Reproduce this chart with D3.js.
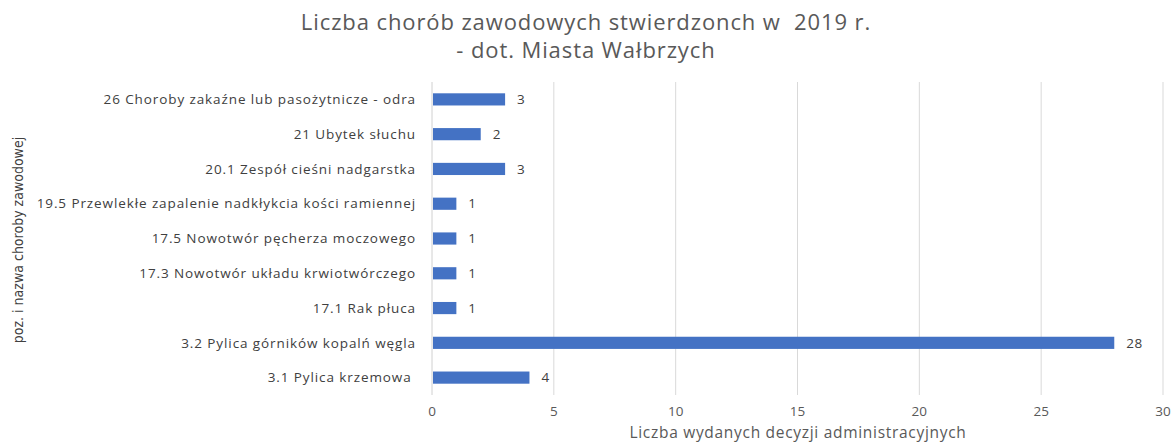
<!DOCTYPE html>
<html>
<head>
<meta charset="utf-8">
<script src="https://cdn.jsdelivr.net/npm/d3@7"></script>
<style>
	body { margin: 0; background: #fff; }
	text { white-space: pre; }
</style>
</head>
<body>
<div id="chart"></div>
<script>
// categories, top to bottom as shown
var categories = [
	"26 Choroby zakaźne lub pasożytnicze - odra",
	"21 Ubytek słuchu",
	"20.1 Zespół cieśni nadgarstka",
	"19.5 Przewlekłe zapalenie nadkłykcia kości ramiennej",
	"17.5 Nowotwór pęcherza moczowego",
	"17.3 Nowotwór układu krwiotwórczego",
	"17.1 Rak płuca",
	"3.2 Pylica górników kopalń węgla",
	"3.1 Pylica krzemowa "
];
var values = [3, 2, 3, 1, 1, 1, 1, 28, 4];
var xTicks = [0, 5, 10, 15, 20, 25, 30];
var titleLines = ["Liczba chorób zawodowych stwierdzonch w  2019 r.", "- dot. Miasta Wałbrzych"];
var xTitle = "Liczba wydanych decyzji administracyjnych";
var yTitle = "poz. i nazwa choroby zawodowej";

var W = 1174, H = 444;
var margin = {top: 82, right: 11, bottom: 49, left: 432};
var FONT = "'Open Sans', 'Noto Sans', sans-serif";

var svg = d3.select("#chart").append("svg")
	.attr("width", W)
	.attr("height", H);

var x = d3.scaleLinear().domain([0, 30]).range([margin.left, W - margin.right]);
var y = d3.scaleBand().domain(categories).range([margin.top, H - margin.bottom]).paddingInner(0.65).paddingOuter(0.325);

//GRIDLINES
svg.append("g").selectAll("line")
	.data(xTicks.slice(1))
	.enter().append("line")
	.attr("x1", function(d){ return x(d); })
	.attr("x2", function(d){ return x(d); })
	.attr("y1", margin.top)
	.attr("y2", H - margin.bottom)
	.attr("stroke", "#d9d9d9")
	.attr("stroke-width", 1);

//ZERO AXIS LINE
svg.append("line")
	.attr("x1", x(0)).attr("x2", x(0))
	.attr("y1", margin.top).attr("y2", H - margin.bottom)
	.attr("stroke", "#d0d0d0")
	.attr("stroke-width", 1);

//BARS
svg.append("g").selectAll("rect")
	.data(values)
	.enter().append("rect")
	.attr("x", x(0) + 1)
	.attr("y", function(d, i){ return y(categories[i]); })
	.attr("width", function(d){ return x(d) - x(0) - 1; })
	.attr("height", y.bandwidth())
	.attr("fill", "#4472c4");

//VALUE LABELS
svg.append("g").selectAll("text")
	.data(values)
	.enter().append("text")
	.attr("x", function(d){ return x(d) + 12; })
	.attr("y", function(d, i){ return y(categories[i]) + y.bandwidth() / 2; })
	.attr("dy", "0.35em")
	.attr("font-family", FONT)
	.attr("font-size", 13.5)
	.attr("letter-spacing", 0.5)
	.attr("fill", "#404040")
	.text(function(d){ return d; });

//CATEGORY LABELS
svg.append("g").selectAll("text")
	.data(categories)
	.enter().append("text")
	.attr("x", margin.left - 16)
	.attr("y", function(d){ return y(d) + y.bandwidth() / 2; })
	.attr("dy", "0.35em")
	.attr("text-anchor", "end")
	.attr("font-family", FONT)
	.attr("font-size", 13.5)
	.attr("letter-spacing", 0.9)
	.attr("fill", "#404040")
	.text(function(d){ return d; });

//X TICK LABELS
svg.append("g").selectAll("text")
	.data(xTicks)
	.enter().append("text")
	.attr("x", function(d){ return x(d); })
	.attr("y", 416)
	.attr("text-anchor", "middle")
	.attr("font-family", FONT)
	.attr("font-size", 13.5)
	.attr("fill", "#595959")
	.text(function(d){ return d; });

//AXIS TITLES
svg.append("text")
	.attr("x", 798)
	.attr("y", 438)
	.attr("text-anchor", "middle")
	.attr("font-family", FONT)
	.attr("font-size", 15.5)
	.attr("letter-spacing", 0.7)
	.attr("fill", "#595959")
	.text(xTitle);

svg.append("text")
	.attr("transform", "translate(23,240) rotate(-90)")
	.attr("text-anchor", "middle")
	.attr("font-family", "'Liberation Sans Narrow', 'DejaVu Sans Condensed', sans-serif")
	.attr("font-size", 14)
	.attr("fill", "#404040")
	.text(yTitle);

//TITLE
svg.append("g").selectAll("text")
	.data(titleLines)
	.enter().append("text")
	.attr("x", 586)
	.attr("y", function(d, i){ return 30 + i * 28; })
	.attr("text-anchor", "middle")
	.attr("font-family", FONT)
	.attr("font-size", 22)
	.attr("letter-spacing", 0.9)
	.attr("fill", "#595959")
	.text(function(d){ return d; });
</script>
</body>
</html>
